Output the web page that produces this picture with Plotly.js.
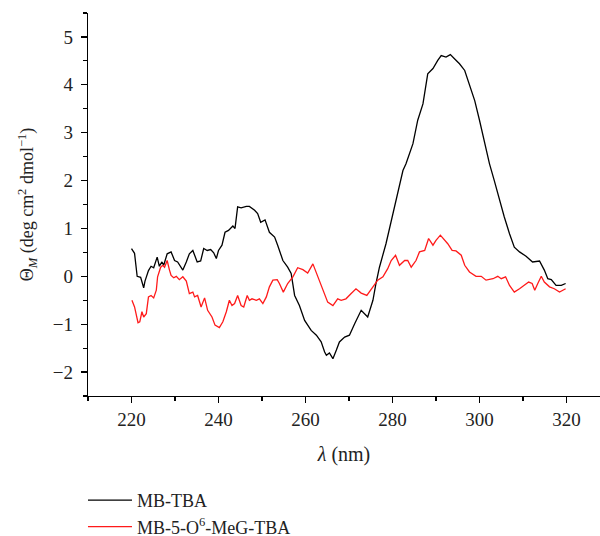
<!DOCTYPE html>
<html>
<head>
<meta charset="utf-8">
<script src="https://cdn.plot.ly/plotly-3.0.1.min.js"></script>
<style>html,body{margin:0;padding:0;background:#fff;}#chart{width:600px;height:536px;}</style>
</head>
<body>
<div id="chart"></div>
<script>
// MB-TBA (black)
var lambdaBlack = [220.0,220.7,221.3,222.1,222.8,223.1,223.9,224.5,225.1,225.9,226.4,227.0,227.4,228.2,229.1,229.9,230.6,231.8,232.6,233.3,234.1,234.5,235.1,235.9,236.6,237.4,238.2,238.9,239.5,240.0,240.8,241.5,242.3,243.3,243.8,244.4,245.2,246.4,247.1,248.3,249.0,249.7,250.7,251.7,252.9,253.6,254.8,255.9,256.7,257.5,258.6,259.8,261.3,262.5,263.6,264.4,264.8,265.5,266.3,267.1,267.8,269.0,270.1,271.3,272.8,274.3,275.5,276.2,277.0,278.5,279.7,280.8,282.4,283.1,284.7,285.8,287.0,288.1,289.3,290.4,291.2,292.3,293.3,294.3,295.4,296.6,297.7,298.9,300.0,301.1,302.3,303.4,304.6,305.7,306.9,308.0,309.2,310.7,312.2,313.8,314.9,315.7,316.5,317.6,318.8,319.8];
var thetaBlack = [0.58,0.48,0.00,-0.02,-0.24,-0.10,0.12,0.21,0.18,0.40,0.21,0.30,0.23,0.47,0.51,0.33,0.30,0.13,0.30,0.47,0.54,0.44,0.30,0.32,0.58,0.54,0.56,0.49,0.37,0.54,0.65,0.92,0.96,1.05,1.00,1.45,1.43,1.46,1.46,1.38,1.31,1.13,1.18,0.92,0.82,0.65,0.33,0.19,0.06,-0.40,-0.61,-0.92,-1.13,-1.23,-1.37,-1.58,-1.65,-1.60,-1.72,-1.54,-1.37,-1.27,-1.23,-0.99,-0.71,-0.85,-0.50,-0.15,0.19,0.68,1.17,1.59,2.21,2.35,2.77,3.26,3.60,4.23,4.34,4.51,4.61,4.58,4.63,4.54,4.44,4.30,4.02,3.67,3.26,2.84,2.35,2.00,1.59,1.24,0.89,0.61,0.51,0.42,0.30,0.32,0.13,-0.05,-0.07,-0.19,-0.19,-0.15];
// MB-5-O6-MeG-TBA (red)
var lambdaRed = [220.1,220.7,221.5,221.9,222.4,222.8,223.4,223.9,224.5,225.1,225.7,226.0,226.7,227.2,227.6,228.2,228.7,229.1,229.7,230.3,231.0,231.8,232.6,233.3,234.1,234.5,235.2,236.0,236.8,237.5,238.5,239.2,240.2,241.0,241.8,242.5,243.1,243.7,244.4,245.2,245.8,246.6,247.1,247.7,248.7,249.4,250.2,251.0,251.7,252.5,253.5,254.0,254.9,255.9,257.1,258.2,259.4,260.5,261.7,262.8,264.0,265.1,266.3,267.4,268.2,269.3,270.5,271.6,272.8,274.1,275.5,276.6,277.8,278.9,279.7,280.7,281.6,282.8,283.5,284.3,285.4,286.2,287.4,288.3,289.3,290.0,291.0,291.7,292.7,293.7,294.6,295.8,296.6,297.7,299.2,300.4,301.5,303.1,304.2,305.0,306.0,306.9,308.0,309.2,310.3,311.3,312.1,312.7,313.4,314.2,314.9,316.1,317.2,318.4,319.8];
var thetaRed = [-0.50,-0.64,-0.97,-0.95,-0.74,-0.85,-0.78,-0.43,-0.40,-0.45,-0.29,-0.01,0.19,0.23,0.19,0.33,0.14,0.02,-0.03,0.00,-0.07,-0.01,-0.10,-0.36,-0.33,-0.43,-0.40,-0.64,-0.45,-0.71,-0.85,-1.02,-1.07,-0.95,-0.74,-0.50,-0.61,-0.57,-0.40,-0.61,-0.64,-0.40,-0.50,-0.47,-0.50,-0.47,-0.57,-0.43,-0.22,-0.08,-0.07,-0.15,-0.33,-0.15,-0.01,0.18,0.14,0.07,0.26,-0.01,-0.29,-0.54,-0.61,-0.47,-0.50,-0.47,-0.36,-0.26,-0.35,-0.40,-0.22,-0.08,-0.01,0.16,0.33,0.44,0.23,0.33,0.33,0.19,0.33,0.51,0.54,0.79,0.65,0.75,0.86,0.79,0.68,0.54,0.53,0.44,0.23,0.09,0.00,0.00,-0.08,-0.05,0.00,-0.05,-0.01,-0.19,-0.33,-0.26,-0.19,-0.12,-0.15,-0.29,-0.15,0.00,-0.12,-0.22,-0.26,-0.33,-0.26];
var seriesNames = ['MB-TBA', 'MB-5-O<sup>6</sup>-MeG-TBA'];
var xTicks = [220, 240, 260, 280, 300, 320];
var yTicks = [-2, -1, 0, 1, 2, 3, 4, 5];

var FONT = 'Liberation Serif, DejaVu Serif, serif';
var traces = [
  {x: lambdaBlack, y: thetaBlack, name: seriesNames[0], type: 'scatter', mode: 'lines',
   line: {color: '#000000', width: 1.3}},
  {x: lambdaRed, y: thetaRed, name: seriesNames[1], type: 'scatter', mode: 'lines',
   line: {color: '#ff1a1a', width: 1.3}}
];
var axisCommon = {
  showline: true, linecolor: '#000', linewidth: 1.2, showgrid: false, zeroline: false,
  ticks: 'outside', ticklen: 6, tickwidth: 1.2, tickcolor: '#000',
  tickfont: {family: FONT, size: 19, color: '#222'}
};
var layout = {
  width: 600, height: 536,
  margin: {l: 88, r: 0, t: 13, b: 140},
  paper_bgcolor: '#fff', plot_bgcolor: '#fff',
  showlegend: true,
  legend: {xref: 'paper', yref: 'container', x: -0.0098, y: 0.1007, xanchor: 'left', yanchor: 'top',
           font: {family: FONT, size: 18, color: '#222'}, tracegroupgap: 0, itemwidth: 44},
  xaxis: Object.assign({}, axisCommon, {
    range: [210, 327.7], tickvals: xTicks, ticktext: xTicks.map(String),
    minor: {dtick: 10, tick0: 210, ticks: 'outside', ticklen: 4, tickwidth: 1.2, tickcolor: '#000'},
    title: {text: '<i>λ</i> (nm)', font: {family: FONT, size: 20, color: '#222'}, standoff: 18}
  }),
  yaxis: Object.assign({}, axisCommon, {
    range: [-2.5, 5.5], tickvals: yTicks, ticktext: yTicks.map(function(v){return v < 0 ? '\u2212' + Math.abs(v) : String(v);}),
    ticklabelstandoff: 4,
    minor: {dtick: 0.5, tick0: 0, ticks: 'outside', ticklen: 4, tickwidth: 1.2, tickcolor: '#000'},
    title: {text: 'Θ<sub><i>M</i></sub> (deg cm<sup>2</sup> dmol<sup>−1</sup>)', font: {family: FONT, size: 18, color: '#222'}, standoff: 14}
  })
};
Plotly.newPlot('chart', traces, layout, {staticPlot: true, displayModeBar: false});
</script>
</body>
</html>
